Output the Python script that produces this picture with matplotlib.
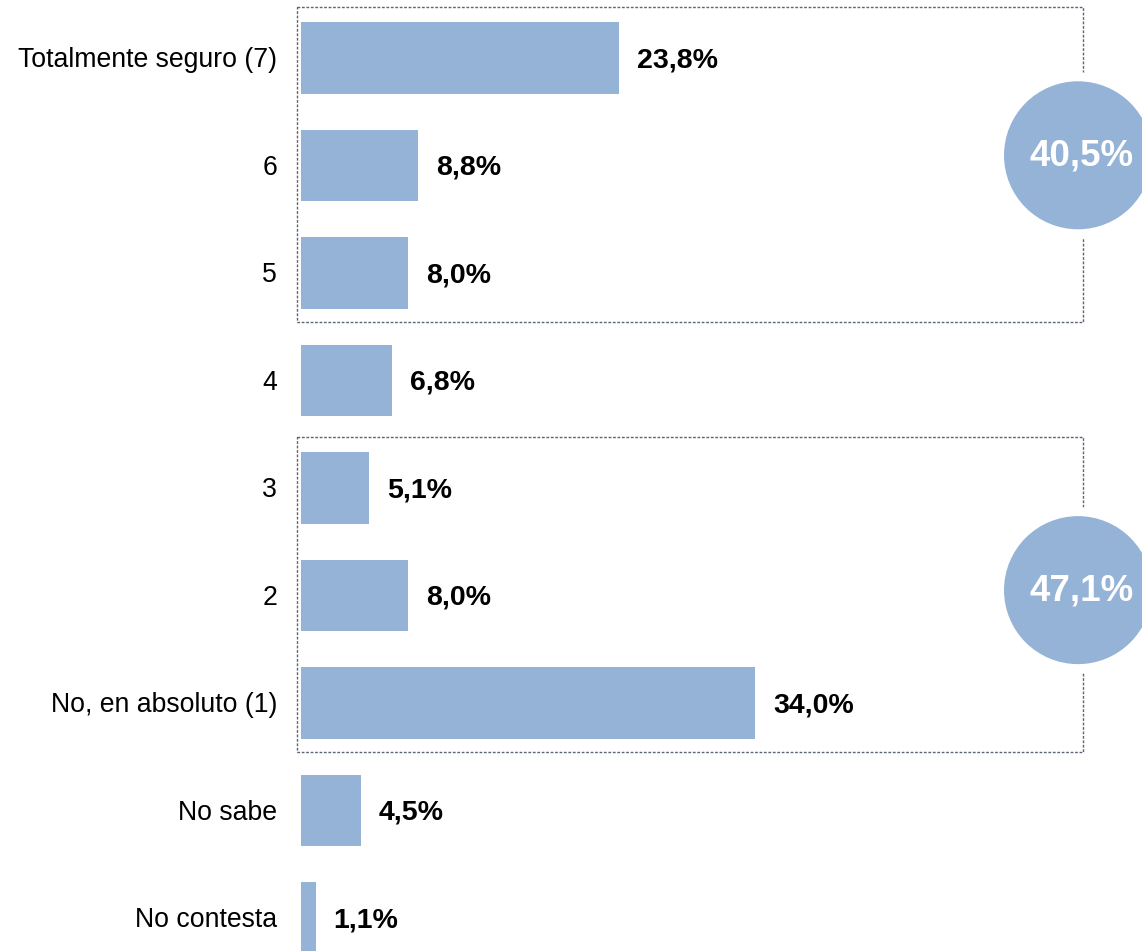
import matplotlib
matplotlib.use("Agg")
import matplotlib.pyplot as plt
from matplotlib.patches import Rectangle, Ellipse

categories = ["Totalmente seguro (7)", "6", "5", "4", "3", "2",
              "No, en absoluto (1)", "No sabe", "No contesta"]
values = [23.8, 8.8, 8.0, 6.8, 5.1, 8.0, 34.0, 4.5, 1.1]
value_labels = ["23,8%", "8,8%", "8,0%", "6,8%", "5,1%", "8,0%", "34,0%", "4,5%", "1,1%"]
group_totals = ["40,5%", "47,1%"]
group_rows = [(0, 2), (4, 6)]

FAM = 'Liberation Sans'
plt.rcParams['font.family'] = FAM

W, H = 1142, 951
fig = plt.figure(figsize=(W / 100, H / 100), dpi=100)
ax = fig.add_axes([0, 0, 1, 1])
# pixel scale: 13.35 px per % ; rows every 107.5 px starting at 58 px
pxu = 13.35
x0 = 301
rowh = 107.5
ax.set_xlim(-x0 / pxu, (W - x0) / pxu)
ax.set_ylim((H - 58) / rowh, -58 / rowh)
ax.axis('off')

color = '#95B3D7'
ypos = list(range(len(categories)))
ax.barh(ypos, values, height=0.665, color=color, edgecolor='none')

for y, v, lab, cat in zip(ypos, values, value_labels, categories):
    ax.text(v + 18 / pxu, y + 0.02, lab, ha='left', va='center',
            fontsize=20.5, fontweight='bold', color='black', family=FAM)
    ax.text(-24 / pxu, y + 0.02, cat, ha='right', va='center', fontsize=19.2,
            color='black', family=FAM)

boxcol = '#5b6577'
circle_offsets = [-0.09, -0.045]  # circle centre relative to box centre (rows)
for (r0, r1), tot, off in zip(group_rows, group_totals, circle_offsets):
    top = r0 - 0.47
    bot = r1 + 0.46
    left = -4 / pxu
    right = (1083 - x0) / pxu
    ax.add_patch(Rectangle((left, top), right - left, bot - top, fill=False,
                           edgecolor=boxcol, linestyle=(0, (2, 1.2)), linewidth=1.0))
    cy = (top + bot) / 2 + off
    cx = (1078 - x0) / pxu
    r_px = 74
    gap = 9
    ax.add_patch(Ellipse((cx, cy), 2 * (r_px + gap) / pxu, 2 * (r_px + gap) / rowh,
                         facecolor='white', edgecolor='none', zorder=4))
    ax.add_patch(Ellipse((cx, cy), 2 * r_px / pxu, 2 * r_px / rowh,
                         facecolor=color, edgecolor='none', zorder=5))
    ax.text(cx + 4 / pxu, cy + 0.01, tot, ha='center', va='center', fontsize=26.5,
            fontweight='bold', color='white', zorder=6, family=FAM)

fig.savefig('out.png', dpi=100)
